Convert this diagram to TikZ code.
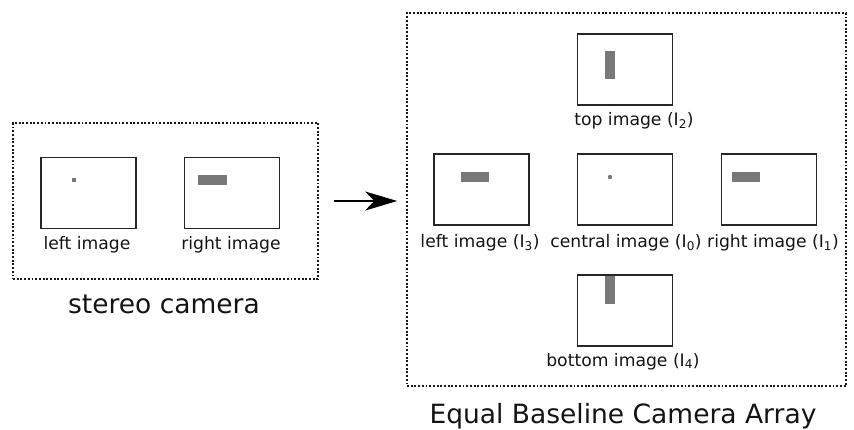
\documentclass[tikz,border=0pt]{standalone}
\usepackage{fontspec}
\setmainfont{DejaVu Sans}
\usetikzlibrary{arrows.meta}
\tikzset{
  dotbox/.style={draw=black!90, line width=1.6pt, dash pattern=on 1.9pt off 1.8pt, inner sep=0pt},
  imgbox/.style={draw=black!85, line width=1.3pt, inner sep=0pt, minimum width=95pt, minimum height=71pt, fill=white},
  spot/.style={fill=black!53, draw=none},
  lbl/.style={anchor=base, inner sep=0pt, font=\fontsize{17.2}{20}\selectfont, text=black!92},
  title/.style={anchor=base, inner sep=0pt, font=\fontsize{26.5}{30}\selectfont, text=black!92},
  conn/.style={line width=1.8pt, -{Stealth[length=32pt, width=19pt, inset=9pt]}}
}
\begin{document}
\begin{tikzpicture}[x=1pt,y=-1pt]
\useasboundingbox (0,0) rectangle (854,430);
% stereo camera
\node[dotbox, minimum width=305pt, minimum height=156pt] (stereo) at (165.5,201) {};
\node[imgbox] (sl) at (88.5,193) {};
\node[imgbox] (sr) at (232,193) {};
\fill[spot] (72,178) rectangle (76,182);
\fill[spot] (198,175) rectangle (227,185);
\node[lbl] (sllbl) at (87,250) {left image};
\node[lbl] (srlbl) at (231,250) {right image};
\node[title] (stitle) at (164,314) {stereo camera};
% array
\node[dotbox, minimum width=439pt, minimum height=373pt] (array) at (626.5,199.5) {};
\node[imgbox] (top) at (625,69.5) {};
\node[imgbox] (left) at (481.5,189.5) {};
\node[imgbox] (cen) at (625,189.5) {};
\node[imgbox] (right) at (769,189.5) {};
\node[imgbox] (bot) at (625,310.5) {};
\fill[spot] (605,51) rectangle (615,79);
\fill[spot] (461,172) rectangle (489,182);
\fill[spot] (732,172) rectangle (760,182);
\fill[spot] (610,177) circle (2.2pt);
\fill[spot] (605,276) rectangle (615,304);
\node[lbl] (toplbl) at (634,126) {top image (I\textsubscript{2})};
\node[lbl] (leftlbl) at (480,248) {left image (I\textsubscript{3})};
\node[lbl] (cenlbl) at (626,248) {central image (I\textsubscript{0})};
\node[lbl] (rightlbl) at (773,248) {right image (I\textsubscript{1})};
\node[lbl] (botlbl) at (623,366) {bottom image (I\textsubscript{4})};
\node[title] (atitle) at (623,423) {Equal Baseline Camera Array};
% arrow
\draw[conn, shorten <=15pt, shorten >=9pt] (stereo.east) -- (stereo.east -| array.west);
\end{tikzpicture}
\end{document}
